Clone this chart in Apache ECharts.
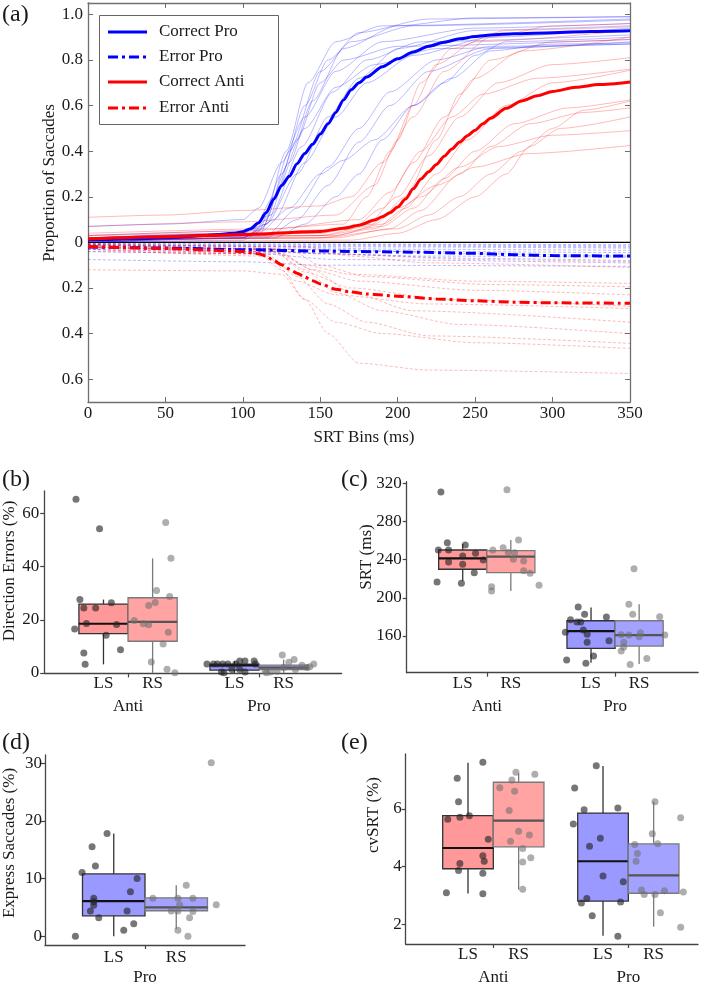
<!DOCTYPE html>
<html><head><meta charset="utf-8">
<script src="https://cdn.jsdelivr.net/npm/echarts@6/dist/echarts.min.js"></script>
<style>html,body{margin:0;padding:0;background:#fff;font-family:'Liberation Serif',serif}#c{width:709px;height:986px}</style>
</head><body><div id="c"></div>
<script>
const FONT = "'Liberation Serif', serif";

// ---------- Panel (a) data ----------
const srtTicks = [0, 50, 100, 150, 200, 250, 300, 350];
const propTicks = [-0.6, -0.4, -0.2, 0, 0.2, 0.4, 0.6, 0.8, 1.0];
const legendNames = ['Correct Pro', 'Error Pro', 'Correct Anti', 'Error Anti'];

const correctProMean = [[0,0.01],[25,0.015],[50,0.02],[75,0.03],[95,0.04],[100,0.047],[105,0.06],[110,0.085],[115,0.13],[120,0.19],[125,0.25],[130,0.29],[135,0.345],[140,0.39],[145,0.43],[150,0.475],[155,0.52],[160,0.57],[165,0.625],[170,0.67],[175,0.70],[180,0.725],[190,0.77],[200,0.805],[210,0.835],[220,0.86],[230,0.878],[240,0.893],[250,0.903],[260,0.91],[275,0.915],[300,0.92],[325,0.925],[350,0.928]];
const correctAntiMean = [[0,0.015],[50,0.025],[100,0.035],[150,0.048],[165,0.062],[175,0.075],[185,0.098],[190,0.112],[195,0.13],[200,0.155],[205,0.19],[210,0.235],[215,0.278],[220,0.31],[225,0.342],[230,0.378],[235,0.41],[240,0.44],[245,0.468],[250,0.492],[255,0.52],[260,0.545],[270,0.588],[280,0.62],[290,0.643],[300,0.662],[315,0.68],[330,0.692],[350,0.704]];
const errorProMean = [[0,0.02],[50,0.025],[100,0.032],[150,0.038],[200,0.042],[250,0.048],[275,0.054],[300,0.058],[350,0.06]];
const errorAntiMean = [[0,0.018],[50,0.027],[75,0.033],[100,0.04],[110,0.05],[115,0.06],[120,0.08],[125,0.098],[130,0.117],[135,0.135],[140,0.152],[145,0.168],[150,0.182],[160,0.205],[170,0.218],[180,0.226],[200,0.236],[225,0.248],[250,0.256],[275,0.262],[300,0.265],[350,0.267]];

const correctProSubjects = [
  [[0,0.01],[100,0.02],[110,0.05],[125,0.3],[140,0.6],[155,0.8],[175,0.92],[220,0.98],[350,0.99]],
  [[0,0.0],[100,0.02],[112,0.06],[130,0.35],[145,0.62],[165,0.85],[200,0.95],[250,0.985],[350,0.99]],
  [[0,0.01],[105,0.03],[115,0.1],[130,0.4],[150,0.75],[170,0.88],[210,0.95],[350,0.975]],
  [[0,0.07],[50,0.08],[100,0.1],[110,0.15],[125,0.35],[140,0.55],[160,0.75],[190,0.88],[250,0.94],[350,0.96]],
  [[0,0.02],[100,0.04],[115,0.08],[135,0.3],[155,0.55],[175,0.72],[200,0.85],[250,0.93],[350,0.95]],
  [[0,0.01],[105,0.03],[120,0.1],[140,0.35],[160,0.55],[180,0.7],[210,0.82],[260,0.9],[350,0.94]],
  [[0,0.0],[115,0.02],[135,0.1],[155,0.25],[175,0.44],[195,0.6],[220,0.75],[260,0.85],[350,0.88]],
  [[0,0.01],[120,0.02],[140,0.08],[160,0.2],[175,0.3],[190,0.45],[210,0.6],[235,0.72],[260,0.84],[300,0.87],[350,0.875]],
  [[0,0.0],[100,0.02],[115,0.08],[135,0.45],[150,0.7],[165,0.8],[200,0.86],[350,0.89]],
  [[0,0.02],[105,0.04],[120,0.2],[140,0.5],[160,0.68],[185,0.78],[225,0.85],[350,0.87]],
  [[0,0.01],[115,0.03],[135,0.15],[155,0.33],[175,0.5],[195,0.66],[225,0.8],[260,0.86],[350,0.87]],
  [[0,0.0],[100,0.01],[112,0.05],[128,0.4],[142,0.7],[160,0.88],[190,0.95],[350,0.98]],
  [[0,0.03],[100,0.05],[118,0.12],[138,0.42],[158,0.66],[180,0.8],[215,0.88],[350,0.91]],
  [[0,0.02],[110,0.04],[130,0.15],[150,0.3],[165,0.36],[185,0.45],[210,0.6],[230,0.7],[250,0.82],[270,0.88],[350,0.9]]
];
const correctAntiSubjects = [
  [[0,0.11],[50,0.12],[100,0.14],[150,0.16],[170,0.2],[190,0.35],[210,0.55],[230,0.75],[260,0.9],[300,0.95],[350,0.96]],
  [[0,0.07],[100,0.09],[160,0.12],[185,0.25],[200,0.45],[215,0.7],[235,0.85],[270,0.93],[350,0.945]],
  [[0,0.03],[100,0.04],[170,0.06],[190,0.15],[210,0.35],[230,0.55],[250,0.72],[280,0.84],[350,0.9]],
  [[0,0.02],[150,0.04],[180,0.08],[200,0.2],[220,0.38],[240,0.55],[265,0.7],[300,0.78],[350,0.81]],
  [[0,0.01],[150,0.02],[185,0.06],[205,0.15],[225,0.3],[245,0.45],[270,0.6],[300,0.7],[350,0.755]],
  [[0,0.02],[150,0.03],[190,0.07],[210,0.15],[230,0.28],[250,0.4],[275,0.52],[310,0.59],[350,0.625]],
  [[0,0.01],[160,0.02],[195,0.06],[215,0.14],[240,0.3],[260,0.42],[285,0.52],[320,0.57],[350,0.59]],
  [[0,0.0],[170,0.01],[200,0.04],[225,0.1],[250,0.2],[270,0.3],[285,0.42],[305,0.5],[350,0.55]],
  [[0,0.01],[160,0.03],[190,0.08],[215,0.2],[240,0.33],[265,0.42],[300,0.47],[350,0.49]],
  [[0,0.02],[150,0.03],[180,0.07],[200,0.15],[225,0.25],[250,0.33],[285,0.39],[350,0.425]],
  [[0,0.03],[100,0.05],[165,0.08],[180,0.2],[195,0.4],[210,0.6],[225,0.78],[250,0.88],[350,0.93]],
  [[0,0.04],[120,0.06],[175,0.1],[195,0.22],[215,0.4],[235,0.55],[255,0.65],[290,0.72],[350,0.76]],
  [[0,0.02],[140,0.04],[185,0.08],[205,0.2],[225,0.45],[240,0.65],[260,0.8],[300,0.88],[350,0.89]],
  [[0,0.01],[150,0.02],[200,0.06],[220,0.12],[240,0.2],[260,0.3],[280,0.4],[300,0.5],[320,0.58],[350,0.62]]
];
const errorProSubjects = [
  [[0,0.005],[350,0.01]],
  [[0,0.01],[150,0.015],[350,0.02]],
  [[0,0.01],[120,0.02],[200,0.03],[350,0.035]],
  [[0,0.02],[120,0.03],[200,0.04],[350,0.045]],
  [[0,0.015],[150,0.03],[250,0.05],[350,0.06]],
  [[0,0.025],[100,0.03],[150,0.05],[250,0.07],[350,0.08]],
  [[0,0.075],[100,0.085],[150,0.1],[350,0.105]],
  [[0,0.005],[120,0.01],[350,0.015]],
  [[0,0.03],[130,0.045],[220,0.06],[350,0.065]],
  [[0,0.01],[200,0.02],[350,0.025]],
  [[0,0.04],[110,0.05],[160,0.075],[350,0.09]]
];
const errorAntiSubjects = [
  [[0,0.12],[100,0.125],[125,0.14],[140,0.25],[155,0.4],[175,0.53],[220,0.56],[350,0.575]],
  [[0,0.04],[110,0.05],[125,0.12],[140,0.25],[160,0.35],[190,0.4],[250,0.44],[350,0.465]],
  [[0,0.03],[115,0.05],[135,0.15],[155,0.27],[180,0.35],[220,0.41],[350,0.443]],
  [[0,0.02],[120,0.04],[140,0.12],[160,0.22],[190,0.3],[240,0.36],[350,0.40]],
  [[0,0.01],[120,0.03],[145,0.12],[170,0.22],[210,0.3],[350,0.35]],
  [[0,0.03],[115,0.06],[135,0.17],[160,0.23],[220,0.27],[350,0.29]],
  [[0,0.015],[120,0.04],[140,0.13],[170,0.2],[230,0.25],[350,0.28]],
  [[0,0.02],[125,0.05],[145,0.12],[175,0.17],[250,0.21],[350,0.23]],
  [[0,0.01],[130,0.03],[150,0.1],[180,0.15],[260,0.185],[350,0.195]],
  [[0,0.02],[120,0.04],[140,0.1],[170,0.14],[250,0.17],[350,0.18]],
  [[0,0.005],[140,0.02],[170,0.06],[220,0.09],[350,0.11]],
  [[0,0.01],[100,0.02],[150,0.05],[250,0.075],[350,0.085]]
];

// ---------- Lower panels data ----------
const taskGroups = ['Anti', 'Pro'];
const sideLabels = ['LS', 'RS'];
// boxes: [task, side, lowerWhisker, q1, median, q3, upperWhisker]
const dirErrBoxes = [['Anti','LS',3.2,14.8,18.5,25.9,27.6],['Anti','RS',0,11.9,19.2,28.3,43.1],['Pro','LS',0,1.0,2.8,3.3,4.5],['Pro','RS',0,1.2,2.0,2.9,5.0]];
const srtBoxes = [['Anti','LS',217.9,229.9,241.4,250.1,256.4],['Anti','RS',207.1,226.3,243.1,249.4,260.6],['Pro','LS',132.1,147.1,165.2,176.0,190.0],['Pro','RS',130.7,149.5,161.0,176.0,193.2]];
const expressBoxes = [['Pro','LS',0,3.56,6.1,10.8,17.8],['Pro','RS',1.26,4.43,5.0,6.67,8.86]];
const cvBoxes = [['Anti','LS',3.06,3.92,4.64,5.76,7.6],['Anti','RS',3.2,4.68,5.59,6.92,7.23],['Pro','LS',1.6,2.8,4.18,5.85,7.48],['Pro','RS',1.91,3.07,3.69,4.78,6.25]];

// points: [jitter, value]
const dirErrAntiLS = [[-0.21,65.4],[-0.03,54.3],[-0.18,27.6],[-0.15,24.4],[-0.06,24.4],[0.06,26.4],[-0.13,18.6],[-0.22,16.5],[0.02,14.2],[0.10,18.2],[-0.15,7.5],[0.13,8.7],[-0.14,3.2]];
const dirErrAntiRS = [[0.10,56.6],[0.14,43.2],[0.03,31.0],[0.02,26.5],[-0.03,25.4],[0.13,28.8],[-0.14,19.7],[-0.07,18.5],[-0.03,18.1],[0.12,15.3],[0.08,10.9],[-0.01,4.1],[0.11,1.4],[0.17,0]];
const dirErrProLS = [[-0.21,3.3],[-0.16,3.3],[-0.13,3.3],[-0.09,3.3],[-0.05,3.3],[0.01,3.3],[0.04,4.5],[0.08,4.5],[0.15,4.5],[0.16,3.3],[-0.02,1.3],[0.04,1.3],[-0.10,0.3],[-0.08,0],[0.08,0.3]];
const dirErrProRS = [[-0.01,6.7],[0.08,5.0],[0.04,4.0],[0.23,3.3],[0.20,2.3],[-0.14,0.6],[-0.10,0.3],[-0.05,0.6],[0.0,2.0],[0.14,2.9],[0.09,1.3],[0.18,2.0],[-0.13,0]];

const srtAntiLS = [[-0.17,310.8],[-0.20,216.6],[-0.19,250.1],[-0.12,257.7],[-0.11,250.1],[-0.11,237.5],[0.0,243.8],[0.02,255.4],[0.0,235.1],[-0.01,215.2],[0.09,226.3],[0.10,246.6],[0.16,239.6]];
const srtAntiRS = [[-0.03,313.3],[-0.14,250.1],[-0.06,252.5],[-0.02,247.7],[0.03,247.3],[0.06,260.6],[0.02,240.3],[0.10,238.6],[0.10,228.4],[0.15,225.7],[0.22,213.1],[-0.15,211.7],[-0.15,207.1]];
const srtProLS = [[-0.10,190.4],[-0.16,177.1],[-0.11,174.7],[-0.08,174.7],[-0.05,182.7],[-0.06,166.3],[-0.03,161.8],[-0.20,163.9],[-0.03,153.4],[0.02,139.0],[-0.19,134.9],[-0.04,131.4],[0.12,179.9],[0.14,155.1]];
const srtProRS = [[-0.04,230.5],[-0.08,193.2],[-0.05,182.7],[-0.14,161.4],[-0.08,161.0],[0.01,163.5],[0.0,159.3],[-0.12,153.4],[-0.12,148.5],[-0.14,144.3],[-0.07,130.3],[0.06,136.6],[0.16,180.2],[0.20,161.0]];

const expressProLS = [[-0.23,0],[-0.19,11.05],[-0.13,15.5],[-0.11,12.2],[-0.04,17.8],[-0.12,6.6],[-0.12,6.0],[-0.12,5.4],[-0.14,4.4],[-0.09,3.2],[0.06,1.04],[0.08,4.37],[0.10,7.7],[0.12,2.2],[0.14,10.0]];
const expressProRS = [[0.21,30.05],[-0.14,6.6],[-0.03,4.4],[0.01,6.6],[0.01,4.4],[0.02,5.46],[0.01,1.04],[0.06,8.86],[0.07,0],[0.08,3.2],[0.10,6.6],[0.10,4.3],[0.24,5.46]];

const cvAntiLS = [[-0.16,3.09],[-0.15,5.64],[-0.08,7.06],[-0.07,6.24],[-0.06,5.71],[0.01,5.76],[-0.06,4.10],[-0.07,3.86],[0.11,7.61],[0.15,4.94],[0.11,4.37],[0.12,4.18],[0.11,3.76],[0.11,3.05]];
const cvAntiRS = [[-0.02,7.27],[-0.05,7.0],[0.12,7.20],[-0.14,6.73],[-0.03,6.61],[-0.07,5.94],[0.0,5.22],[0.08,5.09],[-0.06,4.87],[0.03,4.62],[0.03,4.15],[0.09,4.30],[0.03,3.21]];
const cvProLS = [[-0.21,6.72],[-0.14,5.97],[-0.22,5.47],[-0.05,7.49],[-0.10,4.70],[-0.02,4.98],[0.0,3.67],[-0.12,2.89],[-0.16,2.73],[-0.08,2.29],[0.11,6.03],[0.15,3.47],[0.13,2.77],[0.11,1.58]];
const cvProRS = [[0.01,6.24],[-0.01,5.13],[0.03,4.79],[-0.14,4.76],[-0.12,4.45],[-0.13,4.18],[-0.09,3.18],[-0.07,3.03],[0.01,3.03],[0.08,3.16],[0.05,2.39],[0.20,5.69],[0.22,3.11],[0.20,1.89]];

const dirErrTicks = [0, 20, 40, 60];
const srtValTicks = [160, 200, 240, 280, 320];
const expressTicks = [0, 10, 20, 30];
const cvTicks = [2, 4, 6];

// ---------- build ----------
const BLUE = '#0000FF', RED = '#FF0000';
const DASHDOT = [10, 4, 3, 4];
const series = [];
const neg = arr => arr.map(p => [p[0], -p[1]]);
function addLine(data, color, width, type, opacity, z) {
  series.push({type: 'line', xAxisIndex: 0, yAxisIndex: 0, data: data, symbol: 'none', smooth: 0.25, smoothMonotone: 'x',
    lineStyle: {color: color, width: width, type: type, opacity: opacity}, silent: true, z: z, animation: false});
}
correctProSubjects.forEach(d => addLine(d, BLUE, 1, 'solid', 0.27, 2));
correctAntiSubjects.forEach(d => addLine(d, RED, 1, 'solid', 0.27, 2));
errorProSubjects.forEach(d => addLine(neg(d), BLUE, 1, [3, 2], 0.28, 2));
errorAntiSubjects.forEach(d => addLine(neg(d), RED, 1, [3, 2], 0.28, 2));
series.push({type: 'line', xAxisIndex: 0, yAxisIndex: 0, data: [[srtTicks[0], 0], [srtTicks[srtTicks.length - 1], 0]], symbol: 'none',
  lineStyle: {color: '#000', width: 1.2}, silent: true, z: 3, animation: false});
addLine(correctProMean, BLUE, 3, 'solid', 1, 4);
addLine(neg(errorProMean), BLUE, 3, DASHDOT, 1, 4);
addLine(correctAntiMean, RED, 3, 'solid', 1, 4);
addLine(neg(errorAntiMean), RED, 3, DASHDOT, 1, 4);

const HW = 0.1875;
const FILL = {Anti: ['#FF9999', '#FFA3A3'], Pro: ['#9999FF', '#A3A3FF']};
const STROKE = ['#333333', '#7a7a7a'];
const MED = ['#111111', '#555555'];
const PT = ['rgba(35,35,35,0.78)', 'rgba(110,110,110,0.7)'];

function boxPanel(axisX, axisY, groups, boxes, pointSets) {
  const pos = (task, side) => groups.indexOf(task) + 1 + (side === 'LS' ? -HW : HW);
  series.push({
    type: 'custom', xAxisIndex: axisX, yAxisIndex: axisY, silent: true, animation: false, z: 2,
    data: boxes.map(b => [pos(b[0], b[1]), b[2], b[3], b[4], b[5], b[6], taskGroups.indexOf(b[0]), sideLabels.indexOf(b[1])]),
    renderItem: function (params, api) {
      const x = api.value(0);
      const t = taskGroups[api.value(6)], s = api.value(7);
      const tl = api.coord([x - HW, api.value(4)]);
      const br = api.coord([x + HW, api.value(2)]);
      const hi = api.coord([x, api.value(5)]);
      const lo = api.coord([x, api.value(1)]);
      const q3 = api.coord([x, api.value(4)]);
      const q1 = api.coord([x, api.value(2)]);
      const md = api.coord([x, api.value(3)]);
      return {type: 'group', children: [
        {type: 'line', shape: {x1: hi[0], y1: hi[1], x2: q3[0], y2: q3[1]}, style: {stroke: STROKE[s], lineWidth: 1.3}},
        {type: 'line', shape: {x1: lo[0], y1: lo[1], x2: q1[0], y2: q1[1]}, style: {stroke: STROKE[s], lineWidth: 1.3}},
        {type: 'rect', shape: {x: tl[0], y: tl[1], width: br[0] - tl[0], height: br[1] - tl[1]}, style: {fill: FILL[t][s], stroke: STROKE[s], lineWidth: 1.3}},
        {type: 'line', shape: {x1: tl[0], y1: md[1], x2: br[0], y2: md[1]}, style: {stroke: MED[s], lineWidth: 2.2}}
      ]};
    }
  });
  pointSets.forEach(ps => {
    const s = sideLabels.indexOf(ps[1]);
    const base = pos(ps[0], ps[1]);
    series.push({type: 'scatter', xAxisIndex: axisX, yAxisIndex: axisY, silent: true, animation: false, z: 3,
      symbolSize: 7, itemStyle: {color: PT[s]}, data: ps[2].map(p => [base + p[0], p[1]])});
  });
}

const txt = {fontFamily: FONT, fontSize: 17, color: '#1a1a1a', fontWeight: 'normal'};
const AX = '#444';
function lowerX(grid, min, max, groups, lsMargin, grpMargin) {
  const tickVals = groups.map((g, i) => i + 1);
  const subVals = [];
  groups.forEach((g, i) => { subVals.push(i + 1 - HW); subVals.push(i + 1 + HW); });
  return [
    {gridIndex: grid, type: 'value', min: min, max: max, position: 'bottom',
      axisLine: {show: true, onZero: false, lineStyle: {color: AX, width: 1.3}},
      axisTick: {show: true, customValues: tickVals, length: 4, lineStyle: {color: AX, width: 1.2}},
      axisLabel: Object.assign({show: true, customValues: subVals, margin: lsMargin,
        formatter: v => (v - Math.floor(v) > 0.5 ? sideLabels[0] : sideLabels[1])}, txt),
      splitLine: {show: false}},
    {gridIndex: grid, type: 'value', min: min, max: max, position: 'bottom',
      axisLine: {show: false}, axisTick: {show: false},
      axisLabel: Object.assign({show: true, customValues: tickVals, margin: grpMargin,
        formatter: v => groups[Math.round(v) - 1]}, txt),
      splitLine: {show: false}}
  ];
}
function lowerY(grid, min, max, ticks, margin) {
  return {gridIndex: grid, type: 'value', min: min, max: max,
    axisLine: {show: true, onZero: false, lineStyle: {color: AX, width: 1.3}},
    axisTick: {show: true, customValues: ticks, length: 4, lineStyle: {color: AX, width: 1.2}},
    axisLabel: Object.assign({show: true, customValues: ticks, margin: margin}, txt),
    splitLine: {show: false}};
}

const FRAME = '#6f6f6f';
const xAxes = [
  {gridIndex: 0, type: 'value', min: 0, max: 350, interval: 50, position: 'bottom',
    axisLine: {show: true, onZero: false, lineStyle: {color: FRAME, width: 1.3}},
    axisTick: {show: true, inside: true, length: 5, lineStyle: {color: FRAME}},
    axisLabel: Object.assign({margin: 3}, txt), splitLine: {show: false}},
  {gridIndex: 0, type: 'value', min: 0, max: 350, interval: 50, position: 'top',
    axisLine: {show: true, onZero: false, lineStyle: {color: FRAME, width: 1.3}},
    axisTick: {show: true, inside: true, length: 5, lineStyle: {color: FRAME}},
    axisLabel: {show: false}, splitLine: {show: false}}
].concat(
  lowerX(1, 0.36, 2.63, taskGroups, 2, 25),
  lowerX(2, 0.376, 2.647, taskGroups, 2, 25),
  lowerX(3, 0.4, 1.6, ['Pro'], 4, 24),
  lowerX(4, 0.351, 2.516, taskGroups, 2, 25)
);
const yAxes = [
  {gridIndex: 0, type: 'value', min: -0.7, max: 1.05,
    axisLine: {show: true, onZero: false, lineStyle: {color: FRAME, width: 1.3}},
    axisTick: {show: true, inside: true, length: 5, customValues: propTicks, lineStyle: {color: FRAME}},
    axisLabel: Object.assign({customValues: propTicks, margin: 5,
      formatter: v => (Math.abs(v) < 1e-9 ? '0' : Math.abs(v).toFixed(1))}, txt),
    splitLine: {show: false}},
  {gridIndex: 0, type: 'value', min: -0.7, max: 1.05, position: 'right',
    axisLine: {show: true, onZero: false, lineStyle: {color: FRAME, width: 1.3}},
    axisTick: {show: true, inside: true, length: 5, customValues: propTicks, lineStyle: {color: FRAME}},
    axisLabel: {show: false}, splitLine: {show: false}},
  lowerY(1, -0.2, 68.5, dirErrTicks, 5),
  lowerY(2, 121.6, 321.6, srtValTicks, 5),
  lowerY(3, -1.5, 31.4, expressTicks, 3),
  lowerY(4, 1.31, 7.9, cvTicks, 4)
];

boxPanel(2, 2, taskGroups, dirErrBoxes, [['Anti','LS',dirErrAntiLS],['Anti','RS',dirErrAntiRS],['Pro','LS',dirErrProLS],['Pro','RS',dirErrProRS]]);
boxPanel(4, 3, taskGroups, srtBoxes, [['Anti','LS',srtAntiLS],['Anti','RS',srtAntiRS],['Pro','LS',srtProLS],['Pro','RS',srtProRS]]);
boxPanel(6, 4, ['Pro'], expressBoxes, [['Pro','LS',expressProLS],['Pro','RS',expressProRS]]);
boxPanel(8, 5, taskGroups, cvBoxes, [['Anti','LS',cvAntiLS],['Anti','RS',cvAntiRS],['Pro','LS',cvProLS],['Pro','RS',cvProRS]]);

// ---------- graphics: panel tags, titles, legend ----------
const g = [];
function label(text, x, y, size, rot, align) {
  g.push({type: 'text', x: x, y: y, rotation: rot || 0, z: 10,
    style: {text: text, fontFamily: FONT, fontSize: size, fill: '#1a1a1a', align: align || 'center', verticalAlign: 'middle'}});
}
label('(a)', 2, 15, 24, 0, 'left');
label('(b)', 2, 480, 24, 0, 'left');
label('(c)', 341, 480, 24, 0, 'left');
label('(d)', 2, 743, 24, 0, 'left');
label('(e)', 341, 743, 24, 0, 'left');
label('Proportion of Saccades', 50, 183, 17, Math.PI / 2);
label('SRT Bins (ms)', 364, 438, 17, 0);
label('Direction Errors (%)', 10, 571, 17, Math.PI / 2);
label('SRT (ms)', 367, 557, 17, Math.PI / 2);
label('Express Saccades (%)', 10, 843, 17, Math.PI / 2);
label('cvSRT (%)', 374, 815, 17, Math.PI / 2);

g.push({type: 'rect', shape: {x: 99.5, y: 15.5, width: 179, height: 109}, z: 9,
  style: {fill: '#fff', stroke: '#666', lineWidth: 1}});
const legStyles = [[BLUE, null], [BLUE, DASHDOT], [RED, null], [RED, DASHDOT]];
const legY = [32, 57, 82, 108];
legendNames.forEach((n, i) => {
  g.push({type: 'line', z: 10, shape: {x1: 108, y1: legY[i], x2: 147, y2: legY[i]},
    style: {stroke: legStyles[i][0], lineWidth: 3, lineDash: legStyles[i][1]}});
  g.push({type: 'text', x: 159, y: legY[i], z: 10,
    style: {text: n, fontFamily: FONT, fontSize: 17, fill: '#1a1a1a', align: 'left', verticalAlign: 'middle'}});
});

const chart = echarts.init(document.getElementById('c'), null, {renderer: 'canvas'});
chart.setOption({
  animation: false,
  backgroundColor: '#fff',
  textStyle: {fontFamily: FONT, fontSize: 17, color: '#1a1a1a'},
  grid: [
    {left: 88, top: 3, width: 542, height: 399},
    {left: 44.2, top: 491, width: 297.4, height: 182.4},
    {left: 406.7, top: 481.7, width: 291.4, height: 191},
    {left: 45, top: 755, width: 200, height: 191},
    {left: 405.7, top: 754, width: 292.3, height: 191}
  ],
  xAxis: xAxes,
  yAxis: yAxes,
  series: series,
  graphic: g
});
</script></body></html>
